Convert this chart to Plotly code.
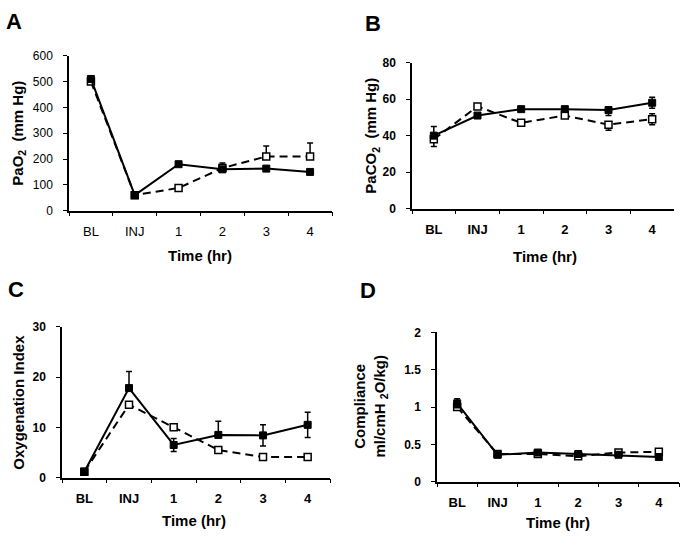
import plotly.graph_objects as go

W, H = 685, 550
categories = ["BL", "INJ", "1", "2", "3", "4"]

# Panel A: PaO2 (mm Hg)
a_solid = [510, 60, 180, 160, 163, 150]
a_solid_err_up = [8, 0, 8, 10, 0, 0]
a_solid_err_dn = [0, 0, 0, 0, 0, 0]
a_dash = [500, 60, 88, 165, 210, 210]
a_dash_err_up = [0, 0, 0, 20, 40, 52]
a_dash_err_dn = [0, 0, 0, 0, 0, 0]

# Panel B: PaCO2 (mm Hg)
b_solid = [40, 51, 54.5, 54.5, 54, 58]
b_solid_err_up = [5, 0, 0, 0, 0, 3]
b_solid_err_dn = [0, 0, 0, 0, 3, 3]
b_dash = [38, 56, 47, 51, 46, 49]
b_dash_err_up = [0, 0, 0, 0, 0, 3]
b_dash_err_dn = [4, 0, 0, 0, 3, 3]

# Panel C: Oxygenation Index
c_solid = [1.2, 17.8, 6.5, 8.5, 8.4, 10.5]
c_solid_err_up = [0, 3.3, 1.3, 2.7, 2.1, 2.5]
c_solid_err_dn = [0, 0, 1.3, 0, 2.1, 2.5]
c_dash = [1.2, 14.5, 10, 5.5, 4.1, 4.1]

# Panel D: Compliance
d_solid = [1.05, 0.36, 0.39, 0.37, 0.36, 0.33]
d_solid_err = [0.06, 0.03, 0.03, 0.03, 0.03, 0.02]
d_dash = [1.0, 0.37, 0.37, 0.34, 0.39, 0.40]

FONT = "Liberation Sans, Arial, sans-serif"

# pixel boxes: (left, right, top, bottom)
boxes = {
    "A": (69, 332, 50, 209),
    "B": (412, 674, 57, 207),
    "C": (62, 330, 328, 483),
    "D": (437, 679, 334, 487),
}
yranges = {"A": [0, 600], "B": [0, 80], "C": [0, 30], "D": [0, 2]}
ydticks = {"A": 100, "B": 20, "C": 10, "D": 0.5}
boldticks = {"A": False, "B": True, "C": True, "D": True}

fig = go.Figure()

def add_panel(idx, solid, sup, sdn, dash, dup, ddn):
    xa = "x" if idx == 1 else f"x{idx}"
    ya = "y" if idx == 1 else f"y{idx}"
    # dashed (open squares)
    fig.add_trace(go.Scatter(
        x=categories, y=dash, xaxis=xa, yaxis=ya, mode="lines+markers",
        line=dict(color="black", width=2, dash="8px,5px"),
        marker=dict(symbol="square", size=7, color="white",
                    line=dict(color="black", width=1.5)),
        error_y=dict(type="data", symmetric=False, array=dup, arrayminus=ddn,
                     color="black", thickness=1.5, width=3),
        showlegend=False, cliponaxis=False))
    # solid (filled squares)
    fig.add_trace(go.Scatter(
        x=categories, y=solid, xaxis=xa, yaxis=ya, mode="lines+markers",
        line=dict(color="black", width=2),
        marker=dict(symbol="square", size=7, color="black",
                    line=dict(color="black", width=1)),
        error_y=dict(type="data", symmetric=False, array=sup, arrayminus=sdn,
                     color="black", thickness=1.5, width=3),
        showlegend=False, cliponaxis=False))

zeros = [0] * 6
add_panel(1, a_solid, a_solid_err_up, a_solid_err_dn, a_dash, a_dash_err_up, a_dash_err_dn)
add_panel(2, b_solid, b_solid_err_up, b_solid_err_dn, b_dash, b_dash_err_up, b_dash_err_dn)
add_panel(3, c_solid, c_solid_err_up, c_solid_err_dn, c_dash, zeros, zeros)
add_panel(4, d_solid, d_solid_err, d_solid_err, d_dash, zeros, zeros)

layout = dict(
    width=W, height=H, margin=dict(l=0, r=0, t=0, b=0),
    paper_bgcolor="white", plot_bgcolor="white", showlegend=False,
    font=dict(family=FONT, color="black"),
)
for i, key in enumerate(["A", "B", "C", "D"], start=1):
    l, r, t, b = boxes[key]
    sx = "xaxis" if i == 1 else f"xaxis{i}"
    sy = "yaxis" if i == 1 else f"yaxis{i}"
    ya = "y" if i == 1 else f"y{i}"
    xa = "x" if i == 1 else f"x{i}"
    wt = "bold" if boldticks[key] else "normal"
    layout[sx] = dict(
        domain=[l / W, r / W], anchor=ya, type="category",
        categoryorder="array", categoryarray=categories,
        range=[-0.5, 5.5], showgrid=False, zeroline=False,
        showline=True, linecolor="black", linewidth=1.5,
        ticks="outside", tickson="boundaries", ticklen=4, tickwidth=1.2,
        tickcolor="black", fixedrange=True,
        tickfont=dict(family=FONT, size=13, color="black", weight=wt),
        ticklabelstandoff=8,
    )
    layout[sy] = dict(
        domain=[1 - b / H, 1 - t / H], anchor=xa,
        range=yranges[key], dtick=ydticks[key], tick0=0,
        showgrid=False, zeroline=False,
        showline=True, linecolor="black", linewidth=1.5,
        ticks="outside", ticklen=4, tickwidth=1.2, tickcolor="black",
        tickfont=dict(family=FONT, size=12, color="black", weight=wt),
        ticklabelstandoff=8, fixedrange=True,
    )
fig.update_layout(**layout)

def ann(text, x, y, size, angle=0, bold=True):
    fig.add_annotation(
        text=text, x=x / W, y=1 - y / H, xref="paper", yref="paper",
        showarrow=False, textangle=angle, xanchor="center", yanchor="middle",
        font=dict(family=FONT, size=size, color="black",
                  weight="bold" if bold else "normal"))

# panel letters
ann("A", 14, 15, 22)
ann("B", 373, 17, 22)
ann("C", 16, 290, 22)
ann("D", 368, 291, 22)

# y titles
ann("PaO<sub>2</sub>  (mm Hg)", 19, 130, 15, angle=-90)
ann("PaCO<sub>2</sub>  (mm Hg)", 372, 132, 15, angle=-90)
ann("Oxygenation Index", 19, 406, 15, angle=-90)
ann("Compliance<br>ml/cmH <sub>2</sub>O/kg)", 371, 410, 15, angle=-90)

# x titles
ann("Time (hr)", 200, 255, 15)
ann("Time (hr)", 545, 256, 15)
ann("Time (hr)", 194, 527, 15)
ann("Time (hr)", 558, 529, 15)

fig.write_html(
    "out.html",
    config={"displayModeBar": False},
    post_script=(
        "document.body.style.margin='0';"
        "document.body.style.overflow='hidden';"
    ),
)
